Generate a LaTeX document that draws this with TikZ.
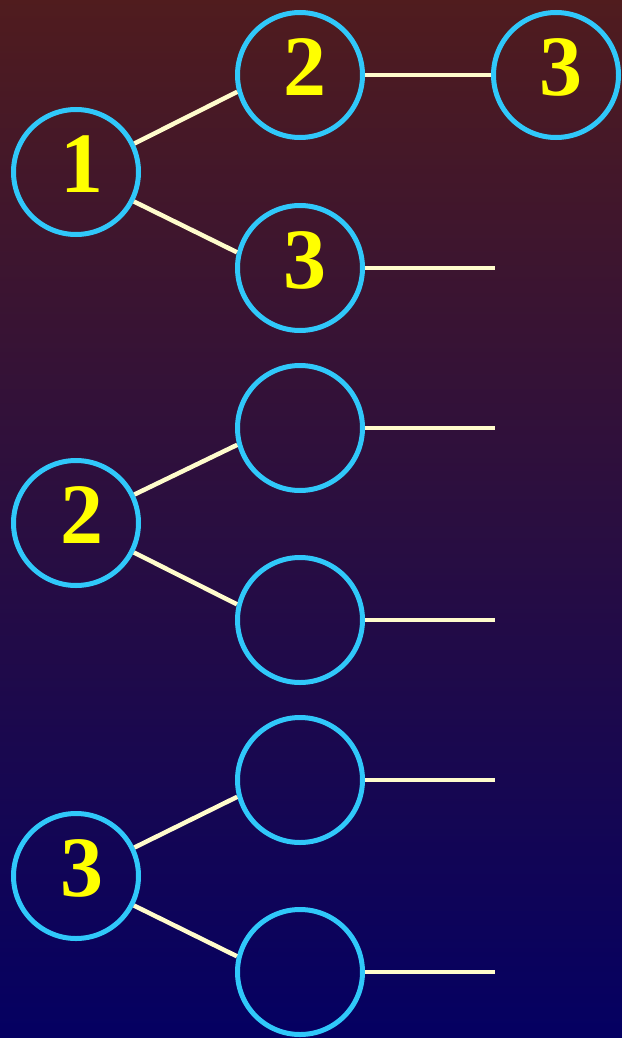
\documentclass[tikz,border=0pt]{standalone}
\usepackage{fontspec}
\setmainfont{Liberation Serif}
\definecolor{bgtop}{RGB}{80,28,30}
\definecolor{bgbot}{RGB}{4,0,98}
\definecolor{ringc}{RGB}{48,200,250}
\definecolor{linec}{RGB}{255,252,204}
\definecolor{numc}{RGB}{255,255,0}
\begin{document}
\begin{tikzpicture}[x=1pt,y=-1pt,
  circ/.style={circle,draw=ringc,line width=5pt,minimum size=125pt,inner sep=0pt},
  num/.style={text=numc,font=\fontsize{86}{86}\selectfont\bfseries,inner sep=0pt},
  conn/.style={draw=linec,line width=4.5pt}]
\useasboundingbox (0,0) rectangle (621,1038);
\shade[top color=bgtop,bottom color=bgbot] (-3,-3) rectangle (624,1041);
% group 1
\node[circ] (a1) at (76,172) {};
\node[circ] (a2) at (300,75) {};
\node[circ] (a3) at (300,268) {};
\node[circ] (a4) at (556,75) {};
\node[num] at ([shift={(6,-8)}]a1.center) {1};
\node[num] at ([shift={(5,-8)}]a2.center) {2};
\node[num] at ([shift={(5,-8)}]a3.center) {3};
\node[num] at ([shift={(5,-8)}]a4.center) {3};
\coordinate (e1) at (495,268);
\draw[conn] (a1.26) -- (a2.195);
\draw[conn] (a1.-27) -- (a3.166);
\draw[conn] (a2.east) -- (a4.west);
\draw[conn] (a3.east) -- (e1);
% group 2
\node[circ] (b1) at (76,523) {};
\node[circ] (b2) at (300,428) {};
\node[circ] (b3) at (300,620) {};
\node[num] at ([shift={(6,-8)}]b1.center) {2};
\coordinate (e2) at (495,428);
\coordinate (e3) at (495,620);
\draw[conn] (b1.26) -- (b2.195);
\draw[conn] (b1.-27) -- (b3.166);
\draw[conn] (b2.east) -- (e2);
\draw[conn] (b3.east) -- (e3);
% group 3
\node[circ] (c1) at (76,876) {};
\node[circ] (c2) at (300,780) {};
\node[circ] (c3) at (300,972) {};
\node[num] at ([shift={(6,-8)}]c1.center) {3};
\coordinate (e4) at (495,780);
\coordinate (e5) at (495,972);
\draw[conn] (c1.26) -- (c2.195);
\draw[conn] (c1.-27) -- (c3.166);
\draw[conn] (c2.east) -- (e4);
\draw[conn] (c3.east) -- (e5);
\end{tikzpicture}
\end{document}
